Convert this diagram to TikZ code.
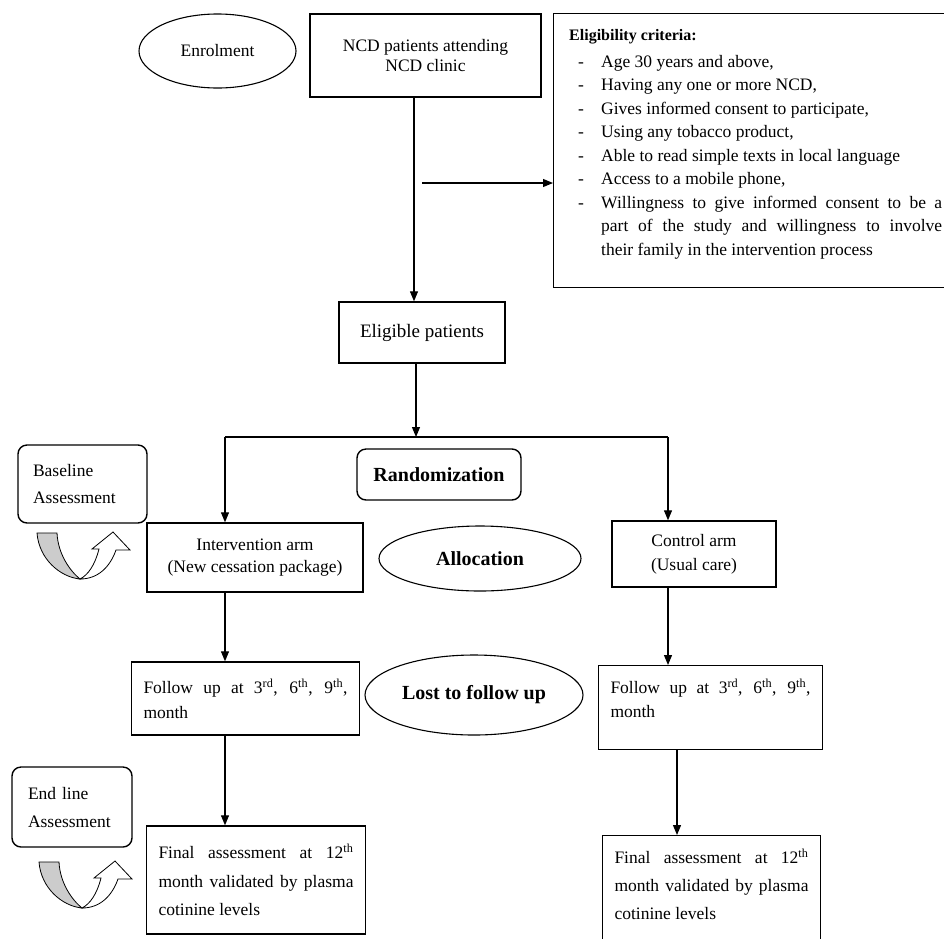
\documentclass[tikz,border=0pt]{standalone}
\usepackage{fontspec}
\setmainfont{Liberation Serif}
\usetikzlibrary{shapes.geometric, arrows.meta, calc}
\newcommand{\critem}[1]{\par\noindent\hangindent=32pt\hangafter=1\makebox[32pt][l]{\hspace{9pt}-}#1}
\tikzset{
	boxnode/.style={
			rectangle,
			draw=black,
			line width=1.4pt,
			inner sep=4pt,
			align=center,
			font=\fontsize{17.5}{22}\selectfont
		},
	roundnode/.style={
			boxnode,
			rounded corners=9pt
		},
	ovalnode/.style={
			ellipse,
			draw=black,
			line width=1.1pt,
			inner sep=0pt,
			font=\fontsize{17.5}{22}\selectfont
		},
	textboxnode/.style={
			boxnode,
			align=justify,
			inner xsep=12pt
		},
	flowline/.style={
			line width=1.1pt,
			-{Triangle[length=10pt,width=8pt]}
		},
	uturn/.pic={
			\draw[line width=0.8pt, fill=gray!40] (-43,-46) .. controls (-41,-20) and (-20,-2) .. (0,0)
				.. controls (-10,-8) and (-22,-25) .. (-23,-46) -- cycle;
			\draw[line width=0.8pt, fill=white] (0,0) .. controls (18,0) and (30,-12) .. (36,-29)
				-- (50,-29) -- (33,-47) -- (12,-30) -- (19,-30) .. controls (15,-14) and (8,-4) .. (0,0) -- cycle;
		}
}

\begin{document}
\begin{tikzpicture}[x=1pt, y=-1pt]
\useasboundingbox (0,0) rectangle (944,938);

\node[ovalnode, minimum width=157pt, minimum height=74pt] (enrol) at (217.5,51) {Enrolment};
\node[boxnode, minimum width=231pt, minimum height=83pt, font=\fontsize{17.5}{20}\selectfont] (ncd) at (425.5,55.5) {NCD patients attending\\NCD clinic};
\node[boxnode, anchor=north west, minimum width=420pt, minimum height=274pt] (critbox) at (553,13) {};
\node[anchor=north west, inner sep=0pt, text width=373pt, align=justify, font=\fontsize{17.5}{23.5}\selectfont] (crittext) at (569,29) {{\fontsize{16}{20}\selectfont\bfseries Eligibility criteria:}\par\vspace{3.5pt}
\critem{Age 30 years and above,}
\critem{Having any one or more NCD,}
\critem{Gives informed consent to participate,}
\critem{Using any tobacco product,}
\critem{Able to read simple texts in local language}
\critem{Access to a mobile phone,}
\critem{Willingness to give informed consent to be a\linebreak part of the study and willingness to involve\linebreak their family in the intervention process}\par};

\node[boxnode, minimum width=166pt, minimum height=61pt, font=\fontsize{19}{22}\selectfont] (elig) at (422,332.5) {Eligible patients};
\node[roundnode, minimum width=164pt, minimum height=51pt, font=\fontsize{20}{24}\selectfont\bfseries] (rand) at (439,474.5) {Randomization};
\node[roundnode, minimum width=129pt, minimum height=78pt, text width=99pt, align=left, font=\fontsize{17.5}{27}\selectfont] (base) at (82.5,484) {Baseline\\Assessment};
\pic (icon1) at (80,579) {uturn};

\node[boxnode, minimum width=216pt, minimum height=69pt] (interv) at (255,557.5) {Intervention arm\\(New cessation package)};
\node[ovalnode, minimum width=202pt, minimum height=65pt, font=\fontsize{20}{24}\selectfont\bfseries] (alloc) at (480,558.5) {Allocation};
\node[boxnode, minimum width=164pt, minimum height=66pt, font=\fontsize{17.5}{24}\selectfont] (ctrl) at (694,554) {Control arm\\(Usual care)};

\node[textboxnode, text width=204pt, minimum height=73pt, font=\fontsize{17.5}{25}\selectfont] (lfollow) at (245.5,698.5) {Follow up at 3\textsuperscript{rd}, 6\textsuperscript{th}, 9\textsuperscript{th},\linebreak month};
\node[ovalnode, minimum width=218pt, minimum height=80pt, font=\fontsize{20}{24}\selectfont\bfseries] (lost) at (474,695) {Lost to follow up};
\node[textboxnode, anchor=north, text width=200pt, text height=24pt, text depth=52pt, font=\fontsize{17.5}{24}\selectfont] (rfollow) at (710.5,665) {Follow up at 3\textsuperscript{rd}, 6\textsuperscript{th}, 9\textsuperscript{th},\linebreak month};

\node[roundnode, minimum width=120pt, minimum height=80pt, text width=88pt, align=left, font=\fontsize{17.5}{28}\selectfont] (endl) at (72,807) {End line\\Assessment};
\pic (icon2) at (82,908) {uturn};

\node[textboxnode, text width=195pt, minimum height=108pt, font=\fontsize{17.5}{28.5}\selectfont] (lfinal) at (256,880) {Final assessment at 12\textsuperscript{th}\linebreak month validated by plasma\linebreak cotinine levels};
\node[textboxnode, anchor=north, text width=194pt, text height=24pt, text depth=90pt, font=\fontsize{17.5}{28}\selectfont] (rfinal) at (711.5,835) {Final assessment at 12\textsuperscript{th}\linebreak month validated by plasma\linebreak cotinine levels};

\coordinate (trunk) at (414,0);
\coordinate (critin) at (422,183);
\coordinate (split) at (416,437);
\coordinate (splitL) at (225,437);
\coordinate (splitR) at (668,437);
\coordinate (rdrop) at (677,0);

\draw[flowline] (trunk |- ncd.south) -- (trunk |- elig.north);
\draw[flowline] (critin) -- (critin -| critbox.west);
\draw[flowline] (split |- elig.south) -- (split);
\draw[line width=1.4pt] (splitL) -- (splitR);
\draw[flowline] (splitL) -- (splitL |- interv.north);
\draw[flowline] (splitR) -- (splitR |- ctrl.north);
\draw[flowline] (splitL |- interv.south) -- (splitL |- lfollow.north);
\draw[flowline] (splitL |- lfollow.south) -- (splitL |- lfinal.north);
\draw[flowline] (splitR |- ctrl.south) -- (splitR |- rfollow.north);
\draw[flowline] (rdrop |- rfollow.south) -- (rdrop |- rfinal.north);

\end{tikzpicture}
\end{document}
